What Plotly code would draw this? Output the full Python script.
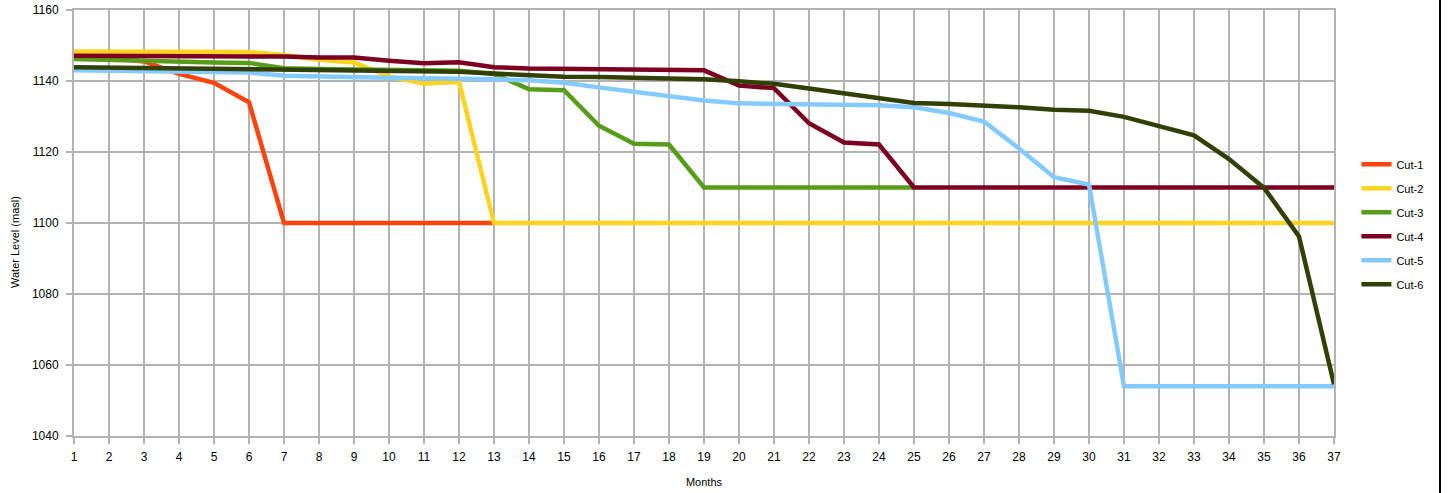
import plotly.graph_objects as go

months = list(range(1, 38))

cut1 = [1147.0, 1146.5, 1145.5, 1142.0, 1139.5, 1134.0, 1100, 1100, 1100, 1100, 1100, 1100, 1100]
cut2 = [1148.3, 1148.3, 1148.2, 1148.2, 1148.2, 1148.2, 1147.3, 1146.0, 1145.2, 1141.3, 1139.2, 1139.8,
        1100, 1100, 1100, 1100, 1100, 1100, 1100, 1100, 1100, 1100, 1100, 1100, 1100,
        1100, 1100, 1100, 1100, 1100, 1100, 1100, 1100, 1100, 1100, 1100, 1100]
cut3 = [1146.2, 1145.9, 1145.6, 1145.4, 1145.2, 1145.1, 1143.6, 1143.4, 1143.3, 1143.2, 1143.0, 1142.9,
        1142.0, 1137.7, 1137.4, 1127.4, 1122.3, 1122.1, 1110, 1110, 1110, 1110, 1110, 1110, 1110]
cut4 = [1147.1, 1147.1, 1147.1, 1147.1, 1147.1, 1147.1, 1146.9, 1146.6, 1146.6, 1145.7, 1145.0, 1145.3,
        1143.9, 1143.5, 1143.4, 1143.4, 1143.4, 1143.2, 1143.0, 1138.7, 1138.0, 1128.1, 1122.7, 1122.1,
        1110, 1110, 1110, 1110, 1110, 1110, 1110, 1110, 1110, 1110, 1110, 1110, 1110]
cut5 = [1143.0, 1142.9, 1142.8, 1142.7, 1142.5, 1142.4, 1141.5, 1141.2, 1141.0, 1140.9, 1140.8, 1140.8,
        1140.5, 1140.2, 1139.5, 1138.2, 1137.0, 1135.8, 1134.5, 1133.7, 1133.6, 1133.5, 1133.4, 1133.2,
        1132.6, 1131.0, 1128.6, 1121.0, 1112.9, 1110.8, 1054, 1054, 1054, 1054, 1054, 1054, 1054]
cut6 = [1143.9, 1143.8, 1143.7, 1143.6, 1143.4, 1143.3, 1143.1, 1143.0, 1142.9, 1142.8, 1142.7, 1142.6,
        1142.1, 1141.5, 1141.2, 1141.1, 1140.9, 1140.7, 1140.5, 1139.9, 1139.2, 1137.9, 1136.6, 1135.2,
        1133.8, 1133.5, 1133.1, 1132.6, 1131.9, 1131.6, 1129.9, 1127.4, 1124.7, 1118.0, 1109.9, 1096.2, 1054.6]

series = [
    ("Cut-1", cut1, "#FF420E"),
    ("Cut-2", cut2, "#FFD320"),
    ("Cut-3", cut3, "#579D1C"),
    ("Cut-4", cut4, "#7E0021"),
    ("Cut-5", cut5, "#83CAFF"),
    ("Cut-6", cut6, "#314004"),
]

y_title = "Water Level (masl)"
x_title = "Months"

fig = go.Figure()
for name, vals, color in series:
    fig.add_trace(go.Scatter(
        x=months[:len(vals)], y=vals, name=name, mode="lines", legendgroup=name,
        line=dict(color=color, width=4.5),
    ))

grid = "#b3b3b3"
fig.update_layout(
    width=1449, height=493,
    margin=dict(l=74, r=115, t=10, b=57, autoexpand=False),
    paper_bgcolor="white", plot_bgcolor="white",
    font=dict(family="Liberation Sans, Arial, sans-serif", size=12, color="#000000"),
    showlegend=True,
    legend=dict(x=1.0178, y=0.497, xanchor="left", yanchor="middle",
                font=dict(size=11), itemwidth=30, tracegroupgap=5,
                bgcolor="rgba(0,0,0,0)"),
    xaxis=dict(range=[1, 37], dtick=1, tick0=1, showgrid=True, gridcolor=grid, gridwidth=2,
               showline=True, linecolor=grid, linewidth=2, mirror=True,
               ticks="outside", ticklen=6, tickcolor=grid, tickwidth=2, ticklabelstandoff=3,
               automargin=False,
               title=dict(text=x_title, font=dict(size=11), standoff=15), zeroline=False),
    yaxis=dict(range=[1040, 1160], dtick=20, showgrid=True, gridcolor=grid, gridwidth=2,
               showline=True, linecolor=grid, linewidth=2, mirror=True,
               ticks="outside", ticklen=6, tickcolor=grid, tickwidth=2, ticklabelstandoff=5,
               automargin=False, zeroline=False),
    annotations=[dict(text=y_title, textangle=-90, xref="paper", yref="paper",
                      x=(15 - 74) / 1260, y=(436 - 242) / 426, xanchor="center", yanchor="middle",
                      showarrow=False, font=dict(size=11))],
    shapes=[dict(type="line", xref="paper", yref="paper",
                 x0=(1440 - 74) / 1260, x1=(1440 - 74) / 1260,
                 y0=-57 / 426, y1=1 + 10 / 426, line=dict(color="#000000", width=2))],
)

fig.write_html("out.html", config={"displayModeBar": False},
               post_script="document.body.style.margin='0';")
